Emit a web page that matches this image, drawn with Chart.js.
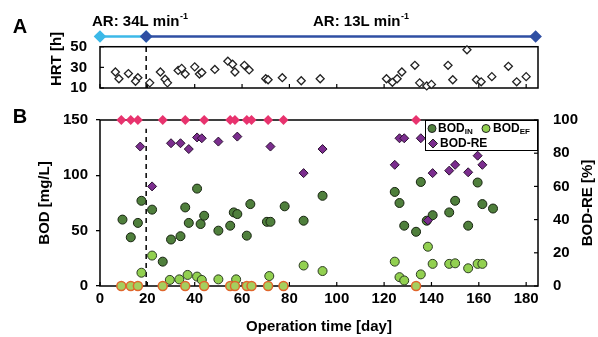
<!DOCTYPE html>
<html>
<head>
<meta charset="utf-8">
<script src="https://cdn.jsdelivr.net/npm/chart.js@4"></script>
<style>
  body { margin: 0; background: #fff; }
  #wrap { position: relative; width: 598px; height: 337px; }
  #chartA { position: absolute; left: 0; top: 0; }
  #chartB { position: absolute; left: 0; top: 95px; }
</style>
</head>
<body>
<div id="wrap">
  <canvas id="chartA" width="598" height="110"></canvas>
  <canvas id="chartB" width="598" height="242"></canvas>
</div>
<script>
const FONT = "'Liberation Sans', Arial, Helvetica, sans-serif";

// tick labels
const dayTicks = [0, 20, 40, 60, 80, 100, 120, 140, 160, 180];
const hrtTicks = [10, 30, 50];
const bodTicks = [0, 50, 100, 150];
const reTicks = [0, 20, 40, 60, 80, 100];

// aeration rate periods (AR: 34 -> 13 L/min)
const arStartDay = 0;
const arSwitchDay = 19.5;
const arEndDay = 184;
const arLevel = 60; // drawn just above the HRT box

// panel A: HRT [h]
const hrtDays = [6.5, 8, 12, 16, 15, 21, 25.5, 27.5, 28.5, 33, 34.5, 36, 40, 42, 43, 48.5, 54, 56, 57, 61,
  63, 70, 71, 77, 85, 93, 121, 123.5, 125.5, 127.5, 133, 135, 138, 140, 147, 149, 155, 159, 161, 165.5,
  172.5, 176, 180];
const hrtValues = [25.5, 19, 24, 20, 16.5, 15, 25.5, 18.5, 15, 27, 29, 23.5, 30.5, 23.5, 25, 28, 36, 33, 25.5, 32,
  27.5, 19, 18, 20, 17, 19, 19, 15.5, 19, 25.5, 32, 15, 12, 13.5, 32, 18, 47, 18, 16, 21,
  31, 16, 21];

// panel B: BOD influent / effluent [mg/L]
const bodInDays = [9.5, 13, 16, 17.5, 22, 26.5, 30, 34, 36, 37.5, 41, 42.5, 44, 50, 55, 56.5, 58, 62, 63.5, 70.5,
  72, 78, 86, 94, 124.5, 126.5, 128.5, 133.5, 135.5, 138, 140.5, 147.5, 150, 155.5, 159.5, 161.5, 166];
const bodInValues = [60, 44, 57, 77, 69, 22, 42, 45, 71, 57, 88, 56, 63.5, 50, 54.5, 66.5, 65, 45.5, 74, 58,
  58, 72, 59, 81.5, 85, 75, 54.5, 49, 94, 59, 64, 66.5, 77, 54.5, 93.5, 74, 70];

const bodEfDays = [17.5, 22, 29.5, 33.5, 37, 41, 43, 50, 57.5, 71.5, 86, 94, 124.5, 126.5, 128.5, 135.5, 138.5,
  140.5, 147.5, 150, 155.5, 159.5, 161.5];
const bodEfValues = [12, 27.5, 5.5, 6, 10, 8.5, 5.5, 6, 6, 9, 18.5, 13.5, 22, 8, 5, 10.5, 35.5,
  20, 20, 20.5, 16, 20, 20];

// days with BOD_EF = 0 (BOD-RE = 100 %)
const fullRemovalDays = [9, 13, 16, 26.5, 36, 44, 55, 57, 62, 64, 71, 77.5, 133.5];

// BOD removal efficiency [%]
const reDays = [17, 22, 30, 34, 37.5, 41, 43, 50, 58, 72, 86, 94, 124.5, 126.5, 128.5, 135.5, 138.5, 140.5,
  147.5, 150, 155.5, 159.5, 161.5];
const reValues = [84, 60, 86, 86, 82.5, 89.5, 89, 87, 90, 84, 68, 82.5, 73, 89, 89, 89, 39.5, 68,
  69.5, 73, 68.5, 78.5, 73];

const pts = (xs, ys) => xs.map((x, i) => ({ x: x, y: ys[i] }));
const flat = (xs, y) => xs.map(x => ({ x: x, y: y }));

Chart.defaults.font.family = FONT;
Chart.defaults.color = "#000";
Chart.defaults.animation = false;

const tickFont = { family: FONT, size: 15, weight: "bold" };
const setTicks = list => scale => { scale.ticks = list.map(v => ({ value: v })); };

// frame (optionally topped at a y value) and small inward tick marks
function framePlugin(inside, topValue) {
  return {
    id: "frame",
    beforeDatasetsDraw(chart) {
      const { ctx, chartArea: a } = chart;
      const top = topValue === undefined ? a.top : chart.scales.y.getPixelForValue(topValue);
      ctx.save();
      ctx.strokeStyle = "#000";
      ctx.lineWidth = 1.5;
      ctx.strokeRect(a.left, top, a.right - a.left, a.bottom - top);
      ctx.lineWidth = 1.2;
      inside.forEach(([id, side]) => {
        const s = chart.scales[id];
        s.ticks.forEach(t => {
          const p = s.getPixelForValue(t.value);
          ctx.beginPath();
          if (side === "bottom") { ctx.moveTo(p, a.bottom); ctx.lineTo(p, a.bottom - 4); }
          if (side === "left") { ctx.moveTo(a.left, p); ctx.lineTo(a.left + 4, p); }
          if (side === "right") { ctx.moveTo(a.right, p); ctx.lineTo(a.right - 4, p); }
          ctx.stroke();
        });
      });
      ctx.restore();
    }
  };
}

function arLabel(ctx, x, y, rate) {
  ctx.font = "bold 15px " + FONT;
  ctx.textBaseline = "middle";
  ctx.textAlign = "left";
  const main = "AR: " + rate + "L min";
  ctx.fillText(main, x, y);
  const w = ctx.measureText(main).width;
  ctx.font = "bold 9px " + FONT;
  ctx.fillText("-1", x + w + 0.5, y - 5);
}

// ---------- panel A ----------
new Chart(document.getElementById("chartA"), {
  type: "scatter",
  data: {
    datasets: [
      {
        data: [{ x: arSwitchDay, y: arLevel }, { x: arEndDay, y: arLevel }],
        showLine: true, borderColor: "#2f4fa3", borderWidth: 2.5,
        pointStyle: "rectRot", pointRadius: 4.5, pointBackgroundColor: "#2f4fa3",
        pointBorderColor: "#2f4fa3", clip: false
      },
      {
        data: [{ x: arStartDay, y: arLevel }, { x: arSwitchDay, y: arLevel }],
        showLine: true, borderColor: "#3cb9e8", borderWidth: 2.5,
        pointStyle: "rectRot", pointRadius: 4.5, pointBackgroundColor: "#3cb9e8",
        pointBorderColor: "#3cb9e8", clip: false
      },
      {
        data: pts(hrtDays, hrtValues),
        pointStyle: "rectRot", pointRadius: 4, borderWidth: 1.3,
        pointBackgroundColor: "#fff", pointBorderColor: "#222", clip: false
      },
      {
        data: [{ x: arSwitchDay, y: 10 }, { x: arSwitchDay, y: 50 }],
        showLine: true, borderColor: "#000", borderWidth: 1.5, borderDash: [5, 4], pointRadius: 0
      }
    ]
  },
  options: {
    responsive: false,
    layout: { padding: { left: 44, top: 30, right: 60, bottom: 0 } },
    plugins: { legend: { display: false }, tooltip: { enabled: false } },
    scales: {
      x: {
        type: "linear", min: 0, max: 185,
        afterBuildTicks: setTicks(dayTicks),
        ticks: { display: false },
        grid: { display: false, drawTicks: false },
        border: { display: false },
        afterFit: s => { s.height = 21; }
      },
      y: {
        min: 10, max: 66.2,
        afterBuildTicks: setTicks(hrtTicks),
        ticks: { font: tickFont, color: "#000", padding: 13, autoSkip: false },
        grid: { display: false, drawTicks: false },
        border: { display: false },
        title: { display: true, text: "HRT [h]", font: tickFont, color: "#000", padding: { top: 4, bottom: 0 } },
        afterFit: s => { s.width = 56; }
      }
    }
  },
  plugins: [
    framePlugin([["x", "bottom"], ["y", "left"]], 50),
    {
      id: "textsA",
      afterDraw(chart) {
        const ctx = chart.ctx;
        ctx.save();
        ctx.fillStyle = "#000";
        ctx.font = "bold 20px " + FONT;
        ctx.textAlign = "center";
        ctx.textBaseline = "middle";
        ctx.fillText("A", 20, 27);
        arLabel(ctx, 92, 22, 34);
        arLabel(ctx, 313, 22, 13);
        ctx.restore();
      }
    }
  ]
});

// ---------- panel B ----------
function drawLegend(ctx) {
  ctx.save();
  ctx.fillStyle = "#fff";
  ctx.fillRect(425, 25, 112, 30);
  ctx.strokeStyle = "#000";
  ctx.lineWidth = 1;
  ctx.strokeRect(425.5, 25.5, 112, 30);

  const circle = (x, y, fill) => {
    ctx.beginPath();
    ctx.arc(x, y, 4, 0, Math.PI * 2);
    ctx.fillStyle = fill; ctx.fill();
    ctx.strokeStyle = "#222"; ctx.lineWidth = 1; ctx.stroke();
  };
  const label = (x, y, txt, sub) => {
    ctx.fillStyle = "#000";
    ctx.textBaseline = "middle";
    ctx.textAlign = "left";
    ctx.font = "bold 12px " + FONT;
    ctx.fillText(txt, x, y);
    if (sub) {
      const w = ctx.measureText(txt).width;
      ctx.font = "bold 8px " + FONT;
      ctx.fillText(sub, x + w, y + 3);
    }
  };
  circle(432, 33.5, "#4f7f3c");
  label(438, 33.5, "BOD", "IN");
  circle(486, 33.5, "#92d050");
  label(493, 33.5, "BOD", "EF");
  ctx.beginPath();
  ctx.moveTo(433, 44); ctx.lineTo(437.5, 48.5); ctx.lineTo(433, 53); ctx.lineTo(428.5, 48.5); ctx.closePath();
  ctx.fillStyle = "#7b2d8e"; ctx.fill();
  ctx.strokeStyle = "#222"; ctx.stroke();
  label(440, 48.5, "BOD-RE");
  ctx.restore();
}

new Chart(document.getElementById("chartB"), {
  type: "scatter",
  data: {
    datasets: [
      {
        data: flat(fullRemovalDays, 100), yAxisID: "y2",
        pointStyle: "rectRot", pointRadius: 5, borderWidth: 0,
        pointBackgroundColor: "#e8336e", pointBorderColor: "#e8336e", clip: false
      },
      {
        data: flat(fullRemovalDays, 0),
        pointRadius: 4.5, borderWidth: 1.5,
        pointBackgroundColor: "#a5cf5e", pointBorderColor: "#e0662c", clip: false
      },
      {
        data: pts(reDays, reValues), yAxisID: "y2",
        pointStyle: "rectRot", pointRadius: 4.5, borderWidth: 1,
        pointBackgroundColor: "#7b2d8e", pointBorderColor: "#2a1030", clip: false
      },
      {
        data: pts(bodEfDays, bodEfValues),
        pointRadius: 4.5, borderWidth: 1,
        pointBackgroundColor: "#92d050", pointBorderColor: "#2b3a22", clip: false
      },
      {
        data: pts(bodInDays, bodInValues),
        pointRadius: 4.5, borderWidth: 1,
        pointBackgroundColor: "#4f7f3c", pointBorderColor: "#16230f", clip: false
      },
      {
        data: [{ x: arSwitchDay, y: 0 }, { x: arSwitchDay, y: 142 }],
        showLine: true, borderColor: "#000", borderWidth: 1.5, borderDash: [5, 4], pointRadius: 0
      }
    ]
  },
  options: {
    responsive: false,
    layout: { padding: { left: 32, top: 25, right: 0, bottom: 0 } },
    plugins: { legend: { display: false }, tooltip: { enabled: false } },
    scales: {
      x: {
        type: "linear", min: 0, max: 185,
        afterBuildTicks: setTicks(dayTicks),
        ticks: { font: tickFont, color: "#000", padding: 4, maxRotation: 0 },
        grid: { display: false, drawTicks: false },
        border: { display: false },
        title: { display: true, text: "Operation time [day]", font: tickFont, color: "#000", padding: { top: 2, bottom: 1 } },
        afterFit: s => { s.height = 51; }
      },
      y: {
        position: "left", min: 0, max: 150,
        afterBuildTicks: setTicks(bodTicks),
        ticks: { font: tickFont, color: "#000", padding: 8 },
        grid: { drawOnChartArea: false, drawTicks: true, tickLength: 4, color: "#000", lineWidth: 1.3 },
        border: { display: false },
        title: { display: true, text: "BOD [mg/L]", font: tickFont, color: "#000", padding: { top: 4, bottom: 0 } },
        afterFit: s => { s.width = 68; }
      },
      y2: {
        position: "right", min: 0, max: 100,
        afterBuildTicks: setTicks(reTicks),
        ticks: { font: tickFont, color: "#000", padding: 15 },
        grid: { display: false, drawTicks: false },
        border: { display: false },
        afterFit: s => { s.width = 60; }
      }
    }
  },
  plugins: [
    framePlugin([["x", "bottom"], ["y2", "right"]]),
    {
      id: "textsB",
      afterDraw(chart) {
        const ctx = chart.ctx;
        ctx.save();
        ctx.fillStyle = "#000";
        ctx.font = "bold 20px " + FONT;
        ctx.textAlign = "center";
        ctx.textBaseline = "middle";
        ctx.fillText("B", 20, 22);
        // right axis title, reading bottom to top
        const a = chart.chartArea;
        ctx.translate(588, (a.top + a.bottom) / 2);
        ctx.rotate(-Math.PI / 2);
        ctx.font = "bold 15px " + FONT;
        ctx.fillText("BOD-RE [%]", 0, 0);
        ctx.restore();
        drawLegend(ctx);
      }
    }
  ]
});
</script>
</body>
</html>
